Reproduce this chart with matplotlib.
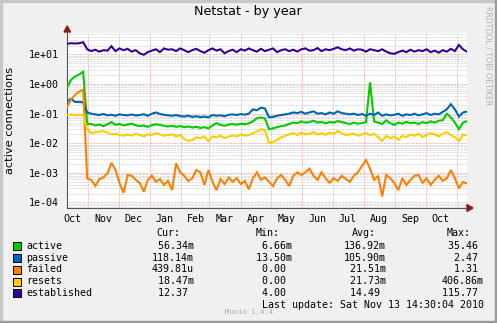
import numpy as np
import matplotlib
matplotlib.use("Agg")
import matplotlib.pyplot as plt
import matplotlib.dates as mdates
from matplotlib.ticker import LogLocator, FuncFormatter, NullFormatter
from matplotlib.patches import Rectangle, Polygon

# -----------------------------------------------------------------------------
# data (one point every 4 days)
# -----------------------------------------------------------------------------
start_date = np.datetime64("2009-10-11")
step_days = 4

established = [23, 24, 23.5, 24, 26,
               15,
               13, 14.5, 12.5, 14, 13.5,
               19,
               13, 16, 14, 15.5, 12.5, 14,
               11, 9.8,
               12, 13.5, 15, 12, 16, 14.5,
               15, 13, 16, 14, 12,
               14, 15.5, 13, 11.5, 14,
               16, 13.5, 15, 11, 13,
               14.5, 12, 15, 13.5, 16,
               14, 12.5, 15.5, 13, 14.5,
               16, 12, 14, 15, 13,
               14.5, 12.5, 15, 16, 13.5,
               14, 16.5, 13, 15, 14,
               15.5, 17.5, 15, 14, 16,
               13.5, 15, 14.5, 12.5, 15,
               14, 13, 15, 12.5, 11,
               10.5, 12, 13.5, 12, 14.5,
               12.5, 14, 13, 15, 12,
               13.5, 11.5, 14, 12.5, 15.5,
               13, 21, 15, 12.4]

passive = [0.26, 0.32, 0.25, 0.25, 0.24,
           0.11,
           0.10, 0.095, 0.09, 0.098, 0.088,
           0.092, 0.085, 0.095, 0.09, 0.088,
           0.094, 0.087, 0.09, 0.096, 0.085,
           0.10, 0.11, 0.098, 0.092, 0.088,
           0.085, 0.09, 0.083, 0.08, 0.086,
           0.078, 0.082, 0.076, 0.08, 0.075,
           0.09, 0.085, 0.088, 0.082, 0.092,
           0.095, 0.09, 0.097, 0.093, 0.10,
           0.14, 0.13, 0.16, 0.15,
           0.075,
           0.078, 0.085, 0.09, 0.095, 0.10,
           0.11, 0.105, 0.115, 0.10, 0.11,
           0.12, 0.10, 0.105, 0.095, 0.11,
           0.10, 0.12, 0.105, 0.10, 0.095,
           0.10, 0.09, 0.098, 0.085, 0.10,
           0.09, 0.11, 0.085, 0.095, 0.088,
           0.092, 0.10, 0.085, 0.095, 0.09,
           0.10, 0.088, 0.095, 0.105, 0.09,
           0.10, 0.095, 0.115, 0.14, 0.21,
           0.14, 0.08, 0.11, 0.118]

active = [0.75, 1.4, 1.8, 2.1, 2.6,
          0.045,
          0.045, 0.04, 0.043, 0.038, 0.044,
          0.052, 0.042, 0.045, 0.04, 0.043,
          0.046, 0.041, 0.038, 0.04, 0.036,
          0.041, 0.044, 0.042, 0.039, 0.037,
          0.039, 0.036, 0.038, 0.035, 0.037,
          0.034, 0.036, 0.033, 0.035, 0.032,
          0.04, 0.048, 0.042, 0.039, 0.043,
          0.045, 0.042, 0.046, 0.044, 0.047,
          0.055, 0.07, 0.075, 0.068,
          0.03,
          0.032, 0.035, 0.038, 0.04, 0.045,
          0.05, 0.048, 0.055, 0.05, 0.052,
          0.058, 0.05, 0.053, 0.047, 0.052,
          0.05, 0.056, 0.052, 0.048, 0.045,
          0.05, 0.046, 0.048, 0.052, 1.15,
          0.055, 0.05, 0.045, 0.06, 0.048,
          0.042, 0.05, 0.046, 0.053, 0.048,
          0.05, 0.045, 0.052, 0.048, 0.055,
          0.05, 0.058, 0.06, 0.1, 0.075,
          0.05, 0.03, 0.05, 0.056]

failed = [0.17, 0.3, 0.43, 0.55, 0.65,
          6.5e-4,
          5.8e-4, 3.6e-4, 6.2e-4, 7e-4, 9.5e-4,
          2.2e-3, 1.25e-3, 4.5e-4, 2.1e-4, 8.5e-4,
          8e-4, 5.8e-4, 4.6e-4, 2.3e-4, 5.8e-4,
          8e-4, 5e-4, 6.2e-4, 3.9e-4, 5.4e-4,
          2.6e-4, 2.1e-3, 1.05e-3, 8e-4, 5.3e-4,
          6.6e-4, 1.25e-3, 1.05e-3, 3.9e-4, 1.25e-3,
          5e-4, 2.6e-4, 6.2e-4, 4.2e-4, 7e-4,
          5e-4, 6.6e-4, 4.2e-4, 5.4e-4, 2.8e-4,
          6.6e-4, 1.05e-3, 5.8e-4, 7e-4, 5e-4,
          3.6e-4, 6.6e-4, 8.5e-4, 5.8e-4, 3.6e-4,
          8e-4, 1.05e-3, 8.5e-4, 1.05e-3, 1.4e-3,
          8e-4, 5.8e-4, 1.05e-3, 6.6e-4, 4.6e-4,
          6.6e-4, 5.4e-4, 8e-4, 6.2e-4, 5e-4,
          8e-4, 1.05e-3, 1.7e-3, 2.7e-3, 1.4e-3,
          5.8e-4, 8e-4, 1.6e-4, 8.5e-4, 6.6e-4,
          4.6e-4, 2.6e-4, 6.6e-4, 3.9e-4, 5.8e-4,
          8e-4, 8.5e-4, 4.6e-4, 6.6e-4, 3.9e-4,
          5.8e-4, 8e-4, 5.4e-4, 6.6e-4, 1.25e-3,
          6.6e-4, 3e-4, 5e-4, 4.4e-4]

resets = [0.09, 0.095, 0.088, 0.092, 0.09,
          0.03,
          0.022, 0.024, 0.025, 0.026, 0.023,
          0.02, 0.021, 0.019, 0.018, 0.02,
          0.018, 0.021, 0.019, 0.017, 0.02,
          0.019, 0.022, 0.02, 0.018, 0.019,
          0.02, 0.017, 0.019, 0.014, 0.012,
          0.013, 0.016, 0.015, 0.017, 0.012,
          0.017, 0.016, 0.018, 0.015, 0.017,
          0.018, 0.017, 0.02, 0.018, 0.019,
          0.022, 0.025, 0.03, 0.028,
          0.0105,
          0.011, 0.013, 0.016, 0.018, 0.02,
          0.022, 0.019, 0.023, 0.02, 0.021,
          0.024, 0.02, 0.022, 0.019, 0.023,
          0.021, 0.026, 0.022, 0.019, 0.02,
          0.021, 0.018, 0.02, 0.022, 0.019,
          0.021, 0.016, 0.012, 0.018, 0.015,
          0.017, 0.013, 0.018, 0.016, 0.02,
          0.018, 0.021, 0.016, 0.019, 0.022,
          0.02, 0.017, 0.021, 0.024, 0.019,
          0.016, 0.012, 0.02, 0.0185]

series_names = ["active", "passive", "failed", "resets", "established"]
series_colors = ["#00CC00", "#0066B3", "#FF8000", "#FFCC00", "#330099"]

cur_values = ["56.34m", "118.14m", "439.81u", "18.47m", "12.37"]
min_values = ["6.66m", "13.50m", "0.00", "0.00", "4.00"]
avg_values = ["136.92m", "105.90m", "21.51m", "21.73m", "14.49"]
max_values = ["35.46", "2.47", "1.31", "406.86m", "115.77"]

# -----------------------------------------------------------------------------
# figure
# -----------------------------------------------------------------------------
W, H = 497, 323
fig = plt.figure(figsize=(W / 100, H / 100), dpi=100, facecolor="#F0F0F0")

def fx(px):
    return px / W

def fy(py):
    return 1 - py / H

ax_l, ax_r, ax_t, ax_b = 67, 467, 33, 208
ax = fig.add_axes([fx(ax_l), fy(ax_b), fx(ax_r - ax_l), (ax_b - ax_t) / H])
ax.set_facecolor("white")

dates = start_date + np.arange(len(established)) * np.timedelta64(step_days, "D")
all_series = [active, passive, failed, resets, established]
for vals, col in zip(all_series, series_colors):
    ax.plot(dates, vals, color=col, lw=1.5, solid_joinstyle="miter", zorder=3)

ax.set_yscale("log")
ax.set_ylim(10 ** -4.186, 10 ** 1.726)
ax.set_xlim(start_date, start_date + np.timedelta64(396, "D"))

mono = "DejaVu Sans Mono"

# y axis
ax.yaxis.set_major_locator(LogLocator(base=10, numticks=20))
ax.yaxis.set_minor_locator(LogLocator(base=10, subs=np.arange(2, 10), numticks=20))
ax.yaxis.set_major_formatter(FuncFormatter(lambda v, p: f"{v:.0e}"))
ax.yaxis.set_minor_formatter(NullFormatter())

# x axis: month grid at the 1st, month labels mid-month
ax.xaxis.set_major_locator(mdates.MonthLocator())
ax.xaxis.set_major_formatter(NullFormatter())
ax.xaxis.set_minor_locator(mdates.MonthLocator(bymonthday=16))
ax.xaxis.set_minor_formatter(mdates.DateFormatter("%b"))

ax.tick_params(which="both", length=0)
ax.tick_params(axis="y", which="major", pad=6)
ax.tick_params(axis="x", which="minor", pad=4)
for lab in ax.get_yticklabels() + ax.get_xticklabels(minor=True):
    lab.set_fontfamily(mono)
    lab.set_fontsize(7.2)

ax.yaxis.grid(True, which="minor", color="#CFCFCF", lw=0.7, ls=(0, (0.72, 0.72)))
ax.yaxis.grid(True, which="major", color="#F0A0A0", lw=0.7, ls=(0, (0.72, 0.72)))
ax.xaxis.grid(True, which="major", color="#F0A0A0", lw=0.7, ls=(0, (0.72, 0.72)))
ax.set_axisbelow(True)

for s in ["top", "right"]:
    ax.spines[s].set_visible(False)
for s in ["left", "bottom"]:
    ax.spines[s].set_color("#555555")
    ax.spines[s].set_linewidth(0.8)

# axis arrows
arrow_col = "#8B1A1A"
fig.add_artist(Polygon([(fx(64), fy(32)), (fx(70.5), fy(32)), (fx(67.2), fy(26))],
                       closed=True, color=arrow_col, transform=fig.transFigure))
fig.add_artist(Polygon([(fx(467), fy(204.5)), (fx(467), fy(211.5)), (fx(473), fy(208))],
                       closed=True, color=arrow_col, transform=fig.transFigure))

# title and labels
fig.text(fx(248), fy(12), "Netstat - by year", ha="center", va="center",
         fontsize=9.2, family="DejaVu Sans")
fig.text(fx(10), fy(120), "active connections", rotation=90, ha="center", va="center",
         fontsize=8.2, family="DejaVu Sans")
fig.text(fx(488), fy(56), "RRDTOOL / TOBI OETIKER", rotation=270, ha="center", va="center",
         fontsize=5.6, family="DejaVu Sans", color="#B0B0B0")

# legend
row_y = [246, 257.7, 269.5, 281.5, 293.3]
fs = 7.2
fig.text(fx(156), fy(233.3), "Cur:", family=mono, fontsize=fs, va="center")
fig.text(fx(256), fy(233.3), "Min:", family=mono, fontsize=fs, va="center")
fig.text(fx(352), fy(233.3), "Avg:", family=mono, fontsize=fs, va="center")
fig.text(fx(447), fy(233.3), "Max:", family=mono, fontsize=fs, va="center")

def cell(s):
    if s[-1].isdigit():
        s = s + " "
    return s.rjust(7)

for i, name in enumerate(series_names):
    y = row_y[i]
    fig.add_artist(Rectangle((fx(13), fy(y + 4)), fx(8), 8 / H, facecolor=series_colors[i],
                             edgecolor="black", lw=0.7, transform=fig.transFigure))
    fig.text(fx(26), fy(y), name, family=mono, fontsize=fs, va="center")
    fig.text(fx(152), fy(y), cell(cur_values[i]), family=mono, fontsize=fs, va="center")
    fig.text(fx(250), fy(y), cell(min_values[i]), family=mono, fontsize=fs, va="center")
    fig.text(fx(344), fy(y), cell(avg_values[i]), family=mono, fontsize=fs, va="center")
    fig.text(fx(442), fy(y), cell(max_values[i]), family=mono, fontsize=fs, va="center")

fig.text(fx(262), fy(305.3), "Last update: Sat Nov 13 14:30:04 2010", family=mono,
         fontsize=fs, va="center")
fig.text(fx(225), fy(312.5), "Munin 1.4.4", family=mono, fontsize=5.2, va="center",
         color="#A8A8A8")

# 3d-ish border
fig.add_artist(Rectangle((0, 0), fx(2), 1, color="#C8C8C8", transform=fig.transFigure))
fig.add_artist(Rectangle((0, fy(2)), 1, 2 / H, color="#C8C8C8", transform=fig.transFigure))
fig.add_artist(Rectangle((fx(W - 2), 0), fx(2), 1, color="#9A9A9A", transform=fig.transFigure))
fig.add_artist(Rectangle((0, 0), 1, 2 / H, color="#9A9A9A", transform=fig.transFigure))

fig.savefig("out.png", dpi=100, facecolor=fig.get_facecolor())
